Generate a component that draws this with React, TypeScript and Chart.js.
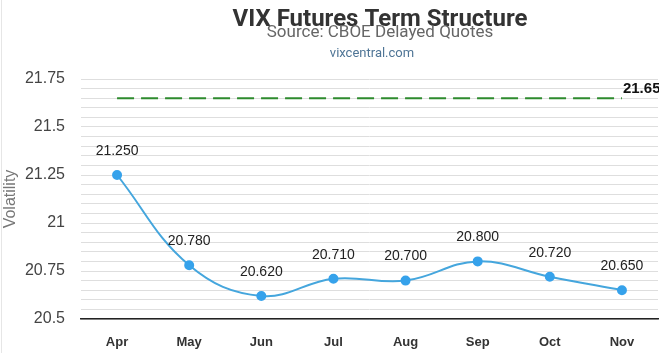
import React, { useEffect, useRef } from "react";
import { Chart, registerables } from "chart.js";

Chart.register(...registerables);

const categories = ["Apr", "May", "Jun", "Jul", "Aug", "Sep", "Oct", "Nov"];
const futuresValues = [21.25, 20.78, 20.62, 20.71, 20.7, 20.8, 20.72, 20.65];
const spotValue = 21.65;
const spotValues = categories.map(() => spotValue);
const yMin = 20.5;
const yMax = 21.75;
const yStep = 0.05;
const titleText = "VIX Futures Term Structure";
const subtitleText = "Source: CBOE Delayed Quotes";
const sourceText = "vixcentral.com";
const yTitle = "Volatility";

const headerPlugin = {
  id: "header",
  afterDraw(chart: any) {
    const ctx = chart.ctx;
    const cx = 380;
    ctx.save();
    ctx.textAlign = "center";
    ctx.textBaseline = "middle";
    ctx.fillStyle = "#333333";
    ctx.font = "bold 24px Roboto, 'Liberation Sans', sans-serif";
    ctx.fillText(titleText, cx, 20);
    ctx.fillStyle = "#666666";
    ctx.font = "17px Roboto, 'Liberation Sans', sans-serif";
    ctx.fillText(subtitleText, cx, 33);
    ctx.fillStyle = "#4f7596";
    ctx.font = "13px Roboto, 'Liberation Sans', sans-serif";
    ctx.fillText(sourceText, cx - 8, 54);
    ctx.restore();
  },
};

const labelPlugin = {
  id: "pointLabels",
  afterDatasetsDraw(chart: any) {
    const ctx = chart.ctx;
    ctx.save();
    const meta0 = chart.getDatasetMeta(0);
    ctx.textAlign = "center";
    ctx.textBaseline = "middle";
    ctx.fillStyle = "#222222";
    ctx.font = "14px 'Liberation Sans', Arial, sans-serif";
    meta0.data.forEach((pt: any, i: number) => {
      ctx.fillText(futuresValues[i].toFixed(3), pt.x, pt.y - 24);
    });
    const meta1 = chart.getDatasetMeta(1);
    const last = meta1.data[meta1.data.length - 1];
    ctx.textAlign = "left";
    ctx.fillStyle = "#111111";
    ctx.font = "bold 15px 'Liberation Sans', Arial, sans-serif";
    ctx.fillText(spotValue.toFixed(2), last.x + 1, last.y - 9);
    ctx.restore();
  },
};

export default function App() {
  const ref = useRef<HTMLCanvasElement>(null);
  useEffect(() => {
    if (!ref.current) return;
    const chart = new Chart(ref.current, {
      type: "line",
      data: {
        labels: categories,
        datasets: [
          {
            data: futuresValues,
            borderColor: "#45a6dd",
            backgroundColor: "#36a2eb",
            pointBackgroundColor: "#36a2eb",
            pointBorderColor: "#36a2eb",
            pointRadius: 4,
            borderWidth: 2,
            tension: 0.4,
            fill: false,
          },
          {
            data: spotValues,
            borderColor: "#2e8b2e",
            borderWidth: 2,
            borderDash: [17, 7],
            pointRadius: 0,
            fill: false,
          },
        ],
      },
      options: {
        animation: false,
        responsive: false,
        layout: { padding: { top: 79, right: 1 } },
        plugins: {
          legend: { display: false },
          tooltip: { enabled: false },
        },
        scales: {
          x: {
            offset: true,
            grid: { display: false, drawTicks: false, tickLength: 0 },
            border: { color: "#222222", width: 1.5 },
            ticks: {
              color: "#333333",
              padding: 16,
              font: { family: "'Liberation Sans', Arial, sans-serif", size: 13, weight: "bold" },
            },
            afterFit: (s: any) => {
              s.height = 34;
            },
          },
          y: {
            min: yMin,
            max: yMax,
            grid: { color: "#dedede", lineWidth: 1, tickLength: 0 },
            border: { color: "rgba(0,0,0,0)", width: 0 },
            ticks: {
              stepSize: yStep,
              autoSkip: false,
              padding: 16,
              color: "#444444",
              font: { family: "'Liberation Sans', Arial, sans-serif", size: 8 },
              callback: (v: any) => {
                const n = Number(v);
                if (Math.abs(n * 4 - Math.round(n * 4)) < 1e-6) {
                  return String(Number(n.toFixed(2)));
                }
                return "";
              },
            },
            afterTickToLabelConversion: (s: any) => {
              s.options.ticks.font = { family: "'Liberation Sans', Arial, sans-serif", size: 16 };
            },
            title: {
              display: true,
              text: yTitle,
              color: "#777777",
              padding: { top: 1, bottom: 0 },
              font: { family: "'Liberation Sans', Arial, sans-serif", size: 16 },
            },
            afterFit: (s: any) => {
              s.width = 81;
            },
          },
        },
      },
      plugins: [headerPlugin, labelPlugin],
    } as any);
    return () => chart.destroy();
  }, []);
  return (
    <div style={{ position: "fixed", left: 0, top: 0, width: 659, height: 353, overflow: "hidden", background: "#fff" }}>
      <canvas ref={ref} width={664} height={353} style={{ display: "block" }} />
      <div style={{ position: "absolute", left: 1, top: 0, width: 1, height: 353, background: "#e6e6e6" }} />
    </div>
  );
}
